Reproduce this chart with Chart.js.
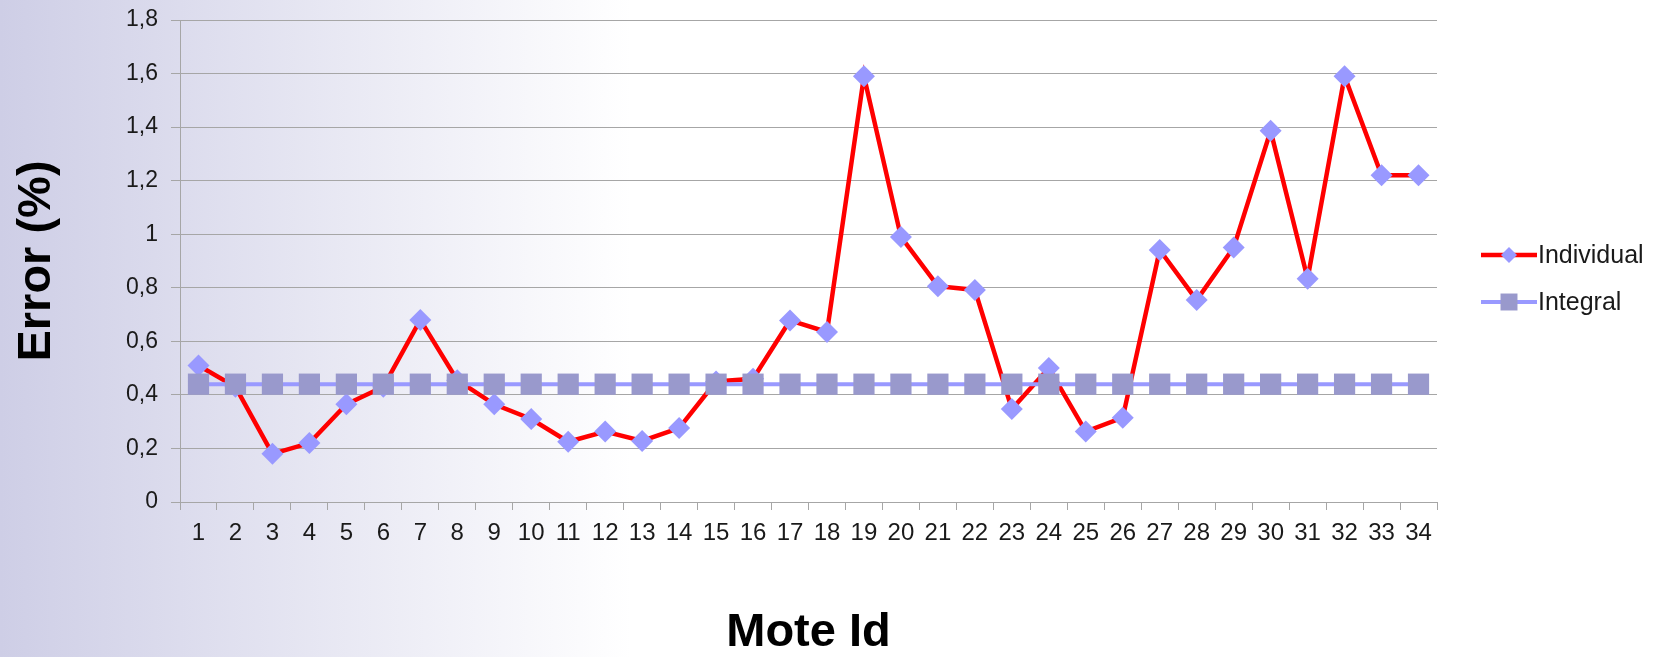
<!DOCTYPE html>
<html>
<head>
<meta charset="utf-8">
<title>Error por mote</title>
<script src="https://cdn.jsdelivr.net/npm/chart.js@4/dist/chart.umd.min.js"></script>
<style>
  html, body {
    margin: 0;
    padding: 0;
  }
  body {
    width: 1661px;
    height: 657px;
    background: linear-gradient(to right, #cecee6 0%, #ffffff 38%, #ffffff 100%);
    overflow: hidden;
  }
  #caja {
    position: relative;
    width: 1661px;
    height: 657px;
  }
</style>
</head>
<body>
<div id="caja"><canvas id="grafico"></canvas></div>
<script>
// ids de los motes
const motes = ["1", "2", "3", "4", "5", "6", "7", "8", "9", "10", "11", "12", "13", "14", "15", "16", "17",
               "18", "19", "20", "21", "22", "23", "24", "25", "26", "27", "28", "29", "30", "31", "32", "33", "34"];

// error de cada mote calibrado por separado
const individual = [0.51, 0.43, 0.18, 0.22, 0.365, 0.43, 0.68, 0.455, 0.365, 0.31, 0.225, 0.263, 0.228, 0.276, 0.45, 0.46, 0.678,
                    0.635, 1.59, 0.99, 0.806, 0.792, 0.347, 0.50, 0.263, 0.315, 0.941, 0.754, 0.95, 1.386, 0.834, 1.59, 1.22, 1.22];

// error de la calibracion conjunta (igual para todos)
const integral = [0.44, 0.44, 0.44, 0.44, 0.44, 0.44, 0.44, 0.44, 0.44, 0.44, 0.44, 0.44, 0.44, 0.44, 0.44, 0.44, 0.44,
                  0.44, 0.44, 0.44, 0.44, 0.44, 0.44, 0.44, 0.44, 0.44, 0.44, 0.44, 0.44, 0.44, 0.44, 0.44, 0.44, 0.44];

const etiquetasY = ["0", "0,2", "0,4", "0,6", "0,8", "1", "1,2", "1,4", "1,6", "1,8"];

const fuente = "'Liberation Sans', Arial, sans-serif";
const gris = "#a6a6a6";

// leyenda a la derecha: linea con el marcador en el medio
const leyenda = {
  id: "leyenda",
  afterDraw(chart) {
    const ctx = chart.ctx;
    const x0 = chart.chartArea.right + 44;
    let y = 255;
    ctx.save();
    chart.data.datasets.forEach((ds) => {
      ctx.strokeStyle = ds.borderColor;
      ctx.lineWidth = ds.borderWidth;
      ctx.beginPath();
      ctx.moveTo(x0, y);
      ctx.lineTo(x0 + 56, y);
      ctx.stroke();
      ctx.fillStyle = ds.pointBackgroundColor;
      Chart.helpers.drawPoint(ctx, {
        pointStyle: ds.pointStyle,
        radius: ds.pointStyle === "rect" ? 12 : 8,
        borderWidth: 0
      }, x0 + 28, y);
      ctx.fillStyle = "#1a1a1a";
      ctx.font = "25px " + fuente;
      ctx.textBaseline = "middle";
      ctx.textAlign = "left";
      ctx.fillText(ds.label, x0 + 57, y + 1);
      y += 47;
    });
    ctx.restore();
  }
};

new Chart(document.getElementById("grafico"), {
  type: "line",
  data: {
    labels: motes,
    datasets: [
      {
        label: "Individual",
        data: individual,
        borderColor: "#ff0000",
        borderWidth: 4.5,
        pointStyle: "rectRot",
        pointRadius: 11,
        pointBorderWidth: 0,
        pointBackgroundColor: "#9999ff",
        pointBorderColor: "#9999ff",
        tension: 0,
        order: 2
      },
      {
        label: "Integral",
        data: integral,
        borderColor: "#9999ff",
        borderWidth: 4,
        pointStyle: "rect",
        pointRadius: 15,
        pointBorderWidth: 0,
        pointBackgroundColor: "#9999cc",
        pointBorderColor: "#9999cc",
        tension: 0,
        order: 1
      }
    ]
  },
  options: {
    responsive: true,
    maintainAspectRatio: false,
    animation: false,
    layout: {
      autoPadding: false,
      padding: { top: 20, right: 224, bottom: 0, left: 0 }
    },
    plugins: {
      legend: { display: false },
      tooltip: { enabled: false }
    },
    scales: {
      x: {
        offset: true,
        grid: {
          offset: true,
          drawOnChartArea: false,
          tickLength: 8,
          color: gris
        },
        border: { color: gris },
        ticks: {
          autoSkip: false,
          maxRotation: 0,
          padding: 9,
          color: "#1a1a1a",
          font: { family: fuente, size: 24 }
        },
        title: {
          display: true,
          text: "Mote Id",
          color: "#000000",
          font: { family: fuente, size: 47, weight: "bold", lineHeight: 1 },
          padding: { top: 0, bottom: 0 }
        },
        afterFit(scale) {
          scale.height = 155;
        }
      },
      y: {
        min: 0,
        max: 1.8,
        grid: {
          tickLength: 9,
          color: gris
        },
        border: { color: gris },
        ticks: {
          stepSize: 0.2,
          padding: 13,
          color: "#1a1a1a",
          font: { family: fuente, size: 23 },
          callback: (v, i) => etiquetasY[i]
        },
        title: {
          display: true,
          text: "Error (%)",
          color: "#000000",
          font: { family: fuente, size: 47, weight: "bold", lineHeight: 1 },
          padding: { top: 14, bottom: 0 }
        },
        afterFit(scale) {
          // ancho fijo y sin margen extra arriba por las etiquetas
          scale.width = 180;
          scale.paddingTop = 0;
          scale.paddingBottom = 0;
        }
      }
    }
  },
  plugins: [leyenda]
});
</script>
</body>
</html>
